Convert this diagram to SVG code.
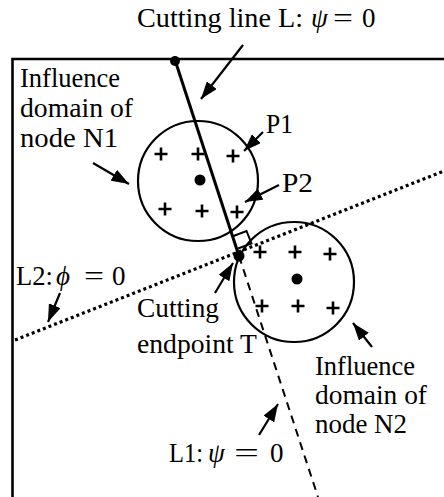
<svg xmlns="http://www.w3.org/2000/svg" width="444" height="497" viewBox="0 0 444 497">
<defs>
<style>
text{font-family:"Liberation Serif","Times New Roman",serif;font-size:27px;fill:#000}
.m{font-style:italic}
.ln{stroke:#000;fill:none}
.arr{stroke:#000;stroke-width:2.2;fill:none;marker-end:url(#ah)}
.plus{stroke:#000;stroke-width:2.6;fill:none}
.dot{fill:#000}
</style>
<marker id="ah" viewBox="0 0 14 10" refX="14" refY="5" markerWidth="8" markerHeight="5.7" markerUnits="strokeWidth" orient="auto">
<path d="M0,0 L14,5 L0,10 z" fill="#000"/>
</marker>
<path id="pl" d="M-6.5,0 H6.5 M0,-6.5 V6.5"/>
</defs>

<g id="frame">
<path class="ln" stroke-width="2.6" d="M444,59 H12.5 V497"/>
</g>

<g id="connectors">
<line id="cutL" class="ln" stroke-width="3" x1="175" y1="60" x2="239" y2="256"/>
<line id="L1" class="ln" stroke-width="2" stroke-dasharray="8,6" x1="239" y1="256" x2="318" y2="497"/>
<line id="L2" class="ln" stroke-width="3.2" stroke-dasharray="3,3" x1="15" y1="340" x2="444" y2="171"/>
<path id="rightangle" class="ln" stroke-width="2" d="M233.5,236 L246.5,231 L251.5,243.5 L238,248.5"/>
<line class="arr" x1="243" y1="45" x2="201" y2="99"/>
<line class="arr" x1="263" y1="132" x2="244" y2="151"/>
<line class="arr" x1="279" y1="185" x2="245" y2="202"/>
<line class="arr" x1="93" y1="163" x2="129" y2="184"/>
<line class="arr" x1="60" y1="293" x2="48" y2="322"/>
<line class="arr" x1="215" y1="293" x2="233" y2="263"/>
<line class="arr" x1="372" y1="347" x2="353" y2="323"/>
<line class="arr" x1="259" y1="435" x2="278" y2="404"/>
</g>

<g id="N1">
<circle class="ln" stroke-width="2.2" cx="198" cy="181" r="60"/>
<circle class="dot" cx="200" cy="180" r="5.5"/>
<use href="#pl" class="plus" x="161" y="154"/>
<use href="#pl" class="plus" x="198" y="154"/>
<use href="#pl" class="plus" x="233" y="156"/>
<use href="#pl" class="plus" x="165" y="209"/>
<use href="#pl" class="plus" x="202" y="211"/>
<use href="#pl" class="plus" x="237" y="212"/>
</g>

<g id="N2">
<circle class="ln" stroke-width="2.2" cx="294" cy="282" r="60"/>
<circle class="dot" cx="297" cy="279" r="5.5"/>
<use href="#pl" class="plus" x="260" y="252"/>
<use href="#pl" class="plus" x="295" y="252"/>
<use href="#pl" class="plus" x="330" y="254"/>
<use href="#pl" class="plus" x="262" y="306"/>
<use href="#pl" class="plus" x="298" y="306"/>
<use href="#pl" class="plus" x="333" y="308"/>
</g>

<g id="points">
<circle class="dot" cx="175" cy="61" r="5"/>
<circle class="dot" cx="239" cy="256" r="5.5"/>
</g>

<g id="labels">
<text x="137" y="27" textLength="166" lengthAdjust="spacingAndGlyphs">Cutting line L:</text>
<text class="m" x="311" y="27">ψ</text>
<text x="333" y="27" textLength="20" lengthAdjust="spacingAndGlyphs">=</text>
<text x="362" y="27">0</text>
<text x="20" y="87" textLength="100" lengthAdjust="spacingAndGlyphs">Influence</text>
<text x="20" y="117" textLength="113" lengthAdjust="spacingAndGlyphs">domain of</text>
<text x="20" y="147" textLength="98" lengthAdjust="spacingAndGlyphs">node N1</text>
<text x="266" y="133" textLength="27" lengthAdjust="spacingAndGlyphs">P1</text>
<text x="282" y="192" textLength="31" lengthAdjust="spacingAndGlyphs">P2</text>
<text x="16" y="285" textLength="37" lengthAdjust="spacingAndGlyphs">L2:</text>
<text class="m" x="56" y="285">ϕ</text>
<text x="84" y="285" textLength="20" lengthAdjust="spacingAndGlyphs">=</text>
<text x="112" y="285">0</text>
<text x="137" y="317" textLength="82" lengthAdjust="spacingAndGlyphs">Cutting</text>
<text x="137" y="353" textLength="120" lengthAdjust="spacingAndGlyphs">endpoint T</text>
<text x="315" y="375" textLength="100" lengthAdjust="spacingAndGlyphs">Influence</text>
<text x="315" y="404" textLength="112" lengthAdjust="spacingAndGlyphs">domain of</text>
<text x="315" y="433" textLength="92" lengthAdjust="spacingAndGlyphs">node N2</text>
<text x="169" y="462" textLength="34" lengthAdjust="spacingAndGlyphs">L1:</text>
<text class="m" x="208" y="462">ψ</text>
<text x="234" y="462" textLength="25" lengthAdjust="spacingAndGlyphs">=</text>
<text x="270" y="462">0</text>
</g>
</svg>
